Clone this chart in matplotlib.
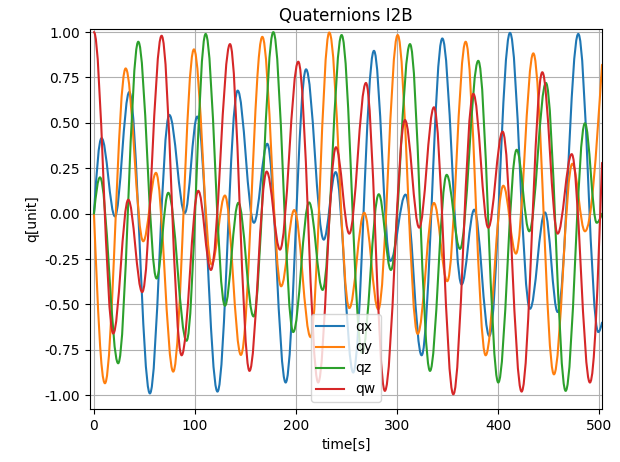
import numpy as np
import matplotlib
matplotlib.use('Agg')
import matplotlib.pyplot as plt
from matplotlib.path import Path
from matplotlib.patches import PathPatch
from matplotlib.lines import Line2D

# extrema (time [s], value), plus start / end points
qx_t = [0, 7.6, 20.8, 35, 55.4, 74.6, 90, 102.3, 122.3, 142.3, 158.4, 171.6, 189.8, 210,
        227.5, 239.3, 256.7, 277.2, 293.5, 308.5, 324.4, 344.9, 364, 376.5, 391.4, 411.9,
        431.7, 446.5, 459.1, 479.5, 499.3, 503]
qx_v = [0.0, 0.416, -0.015, 0.67, -0.99, 0.544, 0.004, 0.535, -0.98, 0.678, -0.05, 0.385,
        -0.93, 0.795, -0.143, 0.229, -0.875, 0.897, -0.26, 0.105, -0.78, 0.965, -0.39, 0.022,
        -0.674, 0.996, -0.524, 0.007, -0.542, 0.99, -0.652, -0.6]

qy_t = [0, 10.9, 31.4, 48.8, 61.4, 78.5, 99, 116.5, 129.7, 145.5, 166.7, 185.3, 198.3, 214.5,
        233, 252.8, 267.6, 281.5, 300.7, 320.5, 336.6, 349.8, 368, 387.8, 405.3, 417.8, 435,
        455.4, 473.6, 486.1, 503]
qy_v = [0.0, -0.934, 0.80, -0.152, 0.225, -0.87, 0.905, -0.28, 0.10, -0.778, 0.974, -0.40,
        0.02, -0.68, 0.998, -0.52, 0.005, -0.527, 0.984, -0.662, 0.059, -0.372, 0.947, -0.78,
        0.154, -0.22, 0.883, -0.885, 0.275, -0.097, 0.82]

qz_t = [0, 6, 24, 43.9, 62, 73.6, 91.7, 110.6, 129.7, 143, 158, 177.6, 197.3, 213, 226.4,
        245.2, 265.5, 282, 294, 312.9, 332.7, 349.2, 362.4, 380.5, 400.3, 418.5, 431, 447.5,
        467, 486.1, 497.7, 503]
qz_v = [0.0, 0.2, -0.824, 0.947, -0.357, 0.115, -0.70, 0.99, -0.507, 0.06, -0.566, 1.0,
        -0.652, 0.062, -0.42, 0.984, -0.768, 0.107, -0.31, 0.934, -0.866, 0.214, -0.194,
        0.842, -0.93, 0.352, -0.097, 0.72, -0.976, 0.498, -0.05, 0.0]

qw_t = [0, 19.1, 34, 47.8, 67, 86.8, 103.3, 115.8, 134.7, 154, 171, 184.2, 202.3, 222,
        239.6, 252.8, 269.3, 288, 307.9, 322, 336.6, 355.8, 375.6, 390.4, 404.6, 423.4,
        443.9, 459.1, 473, 491, 503]
qw_v = [1.0, -0.66, 0.077, -0.432, 0.98, -0.78, 0.126, -0.31, 0.934, -0.866, 0.232, -0.198,
        0.837, -0.93, 0.366, -0.11, 0.72, -0.976, 0.516, -0.077, 0.586, -0.995, 0.66, -0.077,
        0.452, -0.98, 0.779, -0.11, 0.328, -0.93, 0.28]

labels = ['qx', 'qy', 'qz', 'qw']
colors = ['#1f77b4', '#ff7f0e', '#2ca02c', '#d62728']


def smooth_path(t, v, flat_start=False, k=0.364):
    # cubic bezier through the extrema, flat tangent at every interior knot
    n = len(t)
    slope = np.zeros(n)
    if not flat_start:
        slope[0] = 1.57 * (v[1] - v[0]) / (t[1] - t[0])
    slope[-1] = 1.57 * (v[-1] - v[-2]) / (t[-1] - t[-2])
    verts = [(t[0], v[0])]
    codes = [Path.MOVETO]
    for i in range(n - 1):
        dt = t[i + 1] - t[i]
        verts += [(t[i] + k * dt, v[i] + slope[i] * k * dt),
                  (t[i + 1] - k * dt, v[i + 1] - slope[i + 1] * k * dt),
                  (t[i + 1], v[i + 1])]
        codes += [Path.CURVE4] * 3
    return Path(verts, codes)


fig = plt.figure(figsize=(6.2, 4.62), dpi=100)
ax = fig.add_axes([0.145, 0.115, 0.826, 0.822])

series = [(qx_t, qx_v), (qy_t, qy_v), (qz_t, qz_v), (qw_t, qw_v)]
for (t, v), lab, c in zip(series, labels, colors):
    p = smooth_path(t, v, flat_start=(lab == 'qw'))
    ax.add_patch(PathPatch(p, fill=False, edgecolor=c, lw=1.5, zorder=2,
                           joinstyle='round', capstyle='round'))

ax.set_xlim(-4, 503)
ax.set_ylim(-1.075, 1.0165)
ax.set_yticks([-1.0, -0.75, -0.5, -0.25, 0.0, 0.25, 0.5, 0.75, 1.0])
ax.yaxis.set_major_formatter(matplotlib.ticker.FormatStrFormatter('%.2f'))
ax.grid(True)
ax.set_title('Quaternions I2B')
ax.set_xlabel('time[s]')
ax.set_ylabel('q[unit]')

handles = [Line2D([], [], color=c, lw=1.5, label=l) for l, c in zip(labels, colors)]
ax.legend(handles=handles, loc='lower center')

fig.savefig('out.png', dpi=100)
